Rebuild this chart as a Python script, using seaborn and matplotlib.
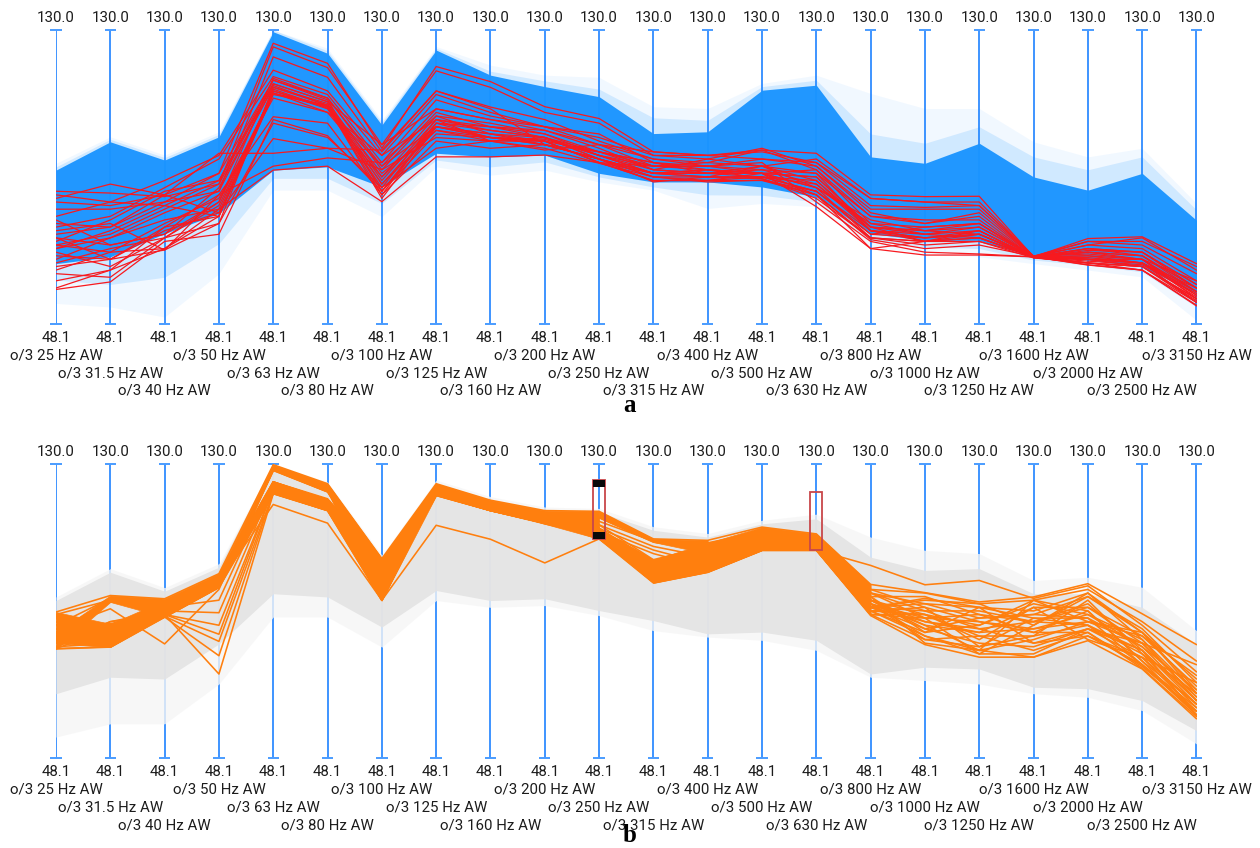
import numpy as np
import pandas as pd
import matplotlib
matplotlib.use("Agg")
import matplotlib.pyplot as plt
from matplotlib.patches import Rectangle
import seaborn as sns

freqs = ["25","31.5","40","50","63","80","100","125","160","200","250","315","400","500","630","800","1000","1250","1600","2000","2500","3150"]
axis_labels = [f"o/3 {f} Hz AW" for f in freqs]
y_min_label, y_max_label = "48.1", "130.0"
y_min, y_max = 48.1, 130.0

blue_core_top = [90.9,98.8,93.7,100.2,129.5,123.5,103.5,124.4,117.4,114.2,111.4,101.1,101.6,113.2,114.6,94.6,92.8,98.4,89.0,85.3,90.0,76.9]
blue_core_bot = [64.8,66.7,73.2,78.8,90.9,91.8,86.2,95.6,94.6,95.1,90.0,87.6,87.6,86.2,83.4,73.2,71.3,71.3,66.7,65.8,63.9,56.5]
blue_mid_top = [91.8,99.5,94.4,100.9,130.0,124.2,104.2,124.9,118.5,115.8,113.5,105.5,104.8,114.2,116.0,101.0,98.4,103.0,94.6,91.0,94.6,79.8]
blue_mid_bot = [60.2,59.0,61.0,70.4,88.6,88.6,81.6,93.7,91.8,93.2,89.0,86.2,84.0,83.9,82.0,71.3,69.5,69.0,65.8,64.4,62.5,52.7]
blue_fade_top = [92.8,100.2,95.1,101.6,130.0,124.9,104.9,125.4,120.2,117.4,116.8,108.6,108.1,115.1,117.4,112.3,108.1,108.1,98.8,94.6,97.0,81.6]
blue_fade_bot = [53.7,52.7,49.9,62.0,85.3,85.3,77.9,91.8,89.5,90.9,87.6,85.3,80.2,81.6,80.7,69.5,67.6,66.7,64.8,63.0,61.1,49.0]

gray_core_top = [91.9,99.8,94.5,101.2,130.0,124.0,103.6,124.5,119.9,117.0,116.6,111.5,109.6,113.3,114.7,104.0,100.3,100.8,93.8,93.8,90.0,79.7]
gray_core_bot = [65.9,70.5,70.0,79.8,93.8,92.9,84.5,94.7,91.9,92.4,89.1,86.3,82.6,83.1,80.8,71.4,73.3,72.8,67.7,67.3,64.0,55.6]
gray_fade_top = [92.9,100.8,95.5,102.2,130.0,125.0,104.6,125.5,120.9,118.0,117.6,112.5,110.6,114.3,116.0,109.6,105.9,105.0,97.5,98.4,95.6,83.5]
gray_fade_bot = [53.8,57.5,57.5,68.6,87.3,87.3,78.9,91.9,90.0,90.5,87.7,83.5,81.7,80.8,78.0,70.5,69.6,68.6,65.9,64.9,61.2,51.9]

red_lines = [
 [83,87,84,90,126.3,120.7,97,119.8,115.6,108.6,105.3,96,95,96.5,95.6,84,83.5,83.6,66.7,71.8,72.3,64.8],
 [85,84.5,83.5,87,125.3,119.5,98,118.6,114,107,104,95,94,92,94,83,82,81,66.7,71,70,62],
 [80,80,82,85,122.5,116.8,96,113,108.5,105,99,94,92,94,93,81,80.5,81,66.9,70,69,60],
 [78,82,88,95,118.8,113,95,112,107,103,101,93,92,91,90,78,77,77,66.5,69,68,58],
 [75,78,86,94,117,112,93,110.5,106,103,98,92,92,90,91,78,76,78,66.5,68.5,68,59],
 [73,75,82,90,116,111,92,108,105,102,97,91,94,97,92,79,76,79,66.7,68,67,58],
 [70,73,80,87,115,110,89,106,104,101,96,92,93,96.5,91,76,75,76,66.7,67,66,57],
 [72,70,73,86,114,109.5,88,105,103,101,95,90,90,90,89,75,74,75,66.7,66,65,56],
 [69,72,77,80,113,108.6,84,104,102,100,95,90,89,89,88,74,73,74,66.5,65,64,55],
 [67,66,75,78,112.3,108.6,83,103,101,100,94,89,88,89,85,73,72,74,66.5,65,64,54],
 [65,69,72,81,112.3,109,85,104,100,99,93,88,88,88,84,72,71,73,66.7,64.5,63,53.2],
 [70,68,69,78,112,108.8,87,102,99,100,94,90,90,91,87,75,71,72,66.7,66,66,55],
 [60,63,75,84,105.8,104,84,99,97,98,94,87.6,89,92,86,72,71,72,66.7,68,67,57],
 [57.6,59.7,71,73,105,100.5,85,103,100,99,93,88,88,90,84,69,71,71,67,65,63,54],
 [74,76,68.6,84,92,94.3,93,106,101,98,94,90,91,90,80.7,69,67.2,67.2,66.7,64.4,63,53],
 [58,63,69,80,90.9,92,82.1,94.6,94.6,95.1,93,92,92,93,82,71,68,67.5,66.7,66,65,57],
 [76,75,84,95.6,95.6,97,96.5,113,108,98,96,93,91,90,86,76,73,72,66.7,68,66,60],
 [82,81,84,79,99.7,97,91,100,99,96.5,98,96,95,94,92,80,80,80,66.7,70,72,63],
 [84,82,81,88,115,110,98,108,105,103,100,95,95,96,93,83,82,82,66.9,71,71,64],
 [68,64,72,76,104,100,86,97,99,99,96,91,90,90,89,75,74,76,66.8,69,67,58],
 [72,66,68.6,76,114,109,90,102,100,98,94,89,87.6,88.1,85,73,75,76,66.5,66,64,55],
 [77,70,73,82,116.5,111,91,107,103,102,98,94,93,92,90,74,72,73,66.5,67,65,54],
 [64,66,74,79,113,108,86,105,102,100,95,91,90,92,88,75,73,75,66.8,67.5,66,56],
 [62,61,72,82,112.5,107,89,103,101,99,93,90,89,89,87,74,72,73,66.6,66.5,65,55.5],
 [71,77,85,88,116,110.5,85,101,100,99.5,95,92,91,90,86,77,74,73,66.7,69,68,59],
 [66,72,79,85,114.5,109,87,104,103,100,96,93,90,89,85,74,71,74,66.6,65.5,64.5,56.5],
 [69,74,81,78,113.5,108.2,92,103,100,98,94,90,91,88.5,83,72,70,71,66.4,65,64,54.5],
 [63,68,76,83,111,107,95,105,99,97,92.8,89,89,88.5,84,71.5,69,70,66.8,66,65,58],
]

orange_lines = [
 [88.7,93.3,92.4,99.4,129.8,124.5,103.6,124.5,119.9,117,116.8,109.1,108.7,112.4,110.5,96.4,94.1,91.5,92.9,96.6,88.2,79.6],
 [84,89.6,79.8,95,128.5,123,100,123,119,116,114,108.5,108,111,110,95,94,91,92,95,86,75],
 [78.4,78.9,88,97,118.7,113.5,92,112.9,109,102.4,109.1,98,100,106,106,101.7,96.3,97.5,92.5,96,85,72],
 [88,92,90,92,125,120.3,103,124,119,116,113,103.3,107,111,109,94,91,90,89,94,83,70],
 [86,85.4,89,88.5,124,119.5,101,122,118,115,112,102,106,110,108,93,93,88,86,90,82,68],
 [82,84,88,85,123,119,99,122,118,114,112,101,105,109,108,92,88,85,91,88,81,66],
 [80,82,88,82.5,123,118,97,121.5,117.5,114,111,100,104,108,107,91,85,83,84,86,80,65],
 [79,80,87.5,80.5,122,117.5,96,121.2,117,113.5,110,99,103,108,106.5,90,84,80,79,84,78,63],
 [87,79.5,87.3,76.5,122,117,92,122,118,113.3,110,98,101,107,106,89,82,78,76.1,82,76,61],
 [85,83,88,71.4,121.7,117,91.9,122,118,114,109.1,96.8,99.8,105.9,105.9,87.7,79.6,76.1,76.1,80.7,72.8,58.9],
 [83,92,91,98,129,123.5,102,124,119,116,115,108.2,106,111,109,91,87,86,83,89,75,60],
 [81,91.5,90,97,128.2,122.2,100,123,118,115,113,107,104,110,108,90,86,84,86,91,78,64],
 [79,86,89,96,128.5,122.5,98,122,118,115,112,106,102,109,107,89,83,90,87,85,74,62],
 [80,85,88,95.6,128.4,122.3,97,121.5,117,114,111,105,101,107,106,88,81,82,78,83,73,59.5],
 [84,80,89,96,125,119,100,123,119,116,112,100,102,108,107,90,92,91,85,93,84,69],
 [86,82,90,95.8,124,118,99,122,118,115,111,101,103,108,107,92,84,87,88,87,79,67],
 [82,81,91,96.5,123,118,96,121.5,117.5,114,110,97.5,100,106.5,106,89,90,79,82,92,77,66],
 [78.5,79,87.5,97,122,117,95,121.3,117,113.5,110,97,100,106,106,88,88,81,90,81,76,63],
 [87.5,84,89,98,125,120,98,123,118,115,112,103,104,109,108,93,80,78,81,86,82,71],
 [85,92.5,91,99,125,119.5,97,122,118,114,111,99,101,107,106,91,82,77,77,84,80,74],
 [83,91.8,90.5,98,124,118.5,94,122,117,114,110,98,100,106,106,90,89,84,80,82,74,60],
 [80,86,88,97,123,118,93,121.5,117,113.5,110,97,100,106,106,94,87,88,83,83,73.5,61],
 [81,80,88,96,124,119,98,122,118,115,112,102,103,108,107,95,90,86,84,88,79,64],
 [82,83,89,97,125,120,100,123,118,115,111,100,102,108,107,94,89,89,86,85,77,62],
 [83,84,90,98,122,118,97,122,117,114,110,99,101,107,106,92,86,83,90,90,80,65],
 [84,85,91,97,123,117.5,96,121.5,117,114,110,98,100,107,106,90,91,87,88,93,83,67],
 [85,81,88,96,124,118,95,122,118,115,111,99,101,108,107,93,83,85,92,89,75,63],
 [86,79.5,87.5,96,121.8,117.2,94,121.5,117,113.5,110,97,100,106,106,91,81,79,87,87,74,61],
 [87,79,87.5,95.8,122,117.3,93,122,117.5,114,110,97.5,100,106,106,90,92.5,90,80,84,76,69],
 [88,78.9,87.4,95.7,123,118,92,122,118,115,111,98,101,107,106,89,88,82,82,85,78,60],
 [79,85,88,97,124,119,94,123,118,115,112,99,102,108,107,92,85,78,92,86,83,66],
 [78.5,84,87.5,98,125,119,96,122,118,114,111,98,101,107,106,88,87,77,85,94,81,64],
]

n = np.nan
ribbon_a_hi = [83.0,93.3,92.4,99.4,129.8,124.5,103.6,124.5,119.9,117,116.8,n,n,n,n,n,n,n,n,n,n,n]
ribbon_a_lo = [78.4,91.5,87.3,95.6,128.2,122.2,92.0,121.2,117,113.3,109.1,n,n,n,n,n,n,n,n,n,n,n]
ribbon_b_hi = [88.7,85.4,92.0,97.0,125.0,120.3,103.6,n,n,n,n,n,n,n,n,n,n,n,n,n,n,n]
ribbon_b_lo = [80.0,78.9,87.3,95.6,121.7,117.0,91.9,n,n,n,n,n,n,n,n,n,n,n,n,n,n,n]
ribbon_c_hi = [n,n,n,n,n,n,n,n,n,n,116.8,109.1,108.7,n,n,n,n,n,n,n,n,n]
ribbon_c_lo = [n,n,n,n,n,n,n,n,n,n,115.0,108.2,105.0,n,n,n,n,n,n,n,n,n]
ribbon_d_hi = [n,n,n,n,n,n,n,n,n,n,112.0,103.3,108.0,112.4,110.5,96.4,n,n,n,n,n,n]
ribbon_d_lo = [n,n,n,n,n,n,n,n,n,n,109.1,96.8,99.8,105.9,105.9,87.7,n,n,n,n,n,n]

brush_axes = [10, 14]
brush_hi = [125.6, 122.2]
brush_lo = [109.1, 105.9]

AXIS_BLUE = "#2f8bff"
CAP_BLUE = "#4a9cff"
BLUE = "#1a94ff"
RED = "#f7191f"
ORANGE = "#ff7f0e"
GRAY = "#e3e3e3"


def long_frame(rows):
    return pd.DataFrame(
        [(i, a, v) for i, r in enumerate(rows) for a, v in enumerate(r)],
        columns=["line", "axis", "value"],
    )


sns.set_theme(style="white")
plt.rcParams["font.family"] = ["Roboto", "DejaVu Sans"]

W, H = 1260, 848
fig = plt.figure(figsize=(W / 100, H / 100), dpi=100, facecolor="white")
L, R = 56.0, 1196.5


def make_axes(top, bottom):
    ax = fig.add_axes([L / W, 1 - bottom / H, (R - L) / W, (bottom - top) / H])
    ax.set_xlim(0, len(freqs) - 1)
    ax.set_ylim(y_min, y_max)
    ax.axis("off")
    return ax


def decorate(ax, top):
    x = np.arange(len(freqs))
    trans = ax.get_xaxis_transform()
    ax.vlines(x, y_min, y_max, color=AXIS_BLUE, lw=1.3, zorder=1)
    cap = 0.105
    ax.hlines([y_min] * len(x), x - cap, x + cap, color=CAP_BLUE, lw=1.4, zorder=1, clip_on=False)
    ax.hlines([y_max] * len(x), x - cap, x + cap, color=CAP_BLUE, lw=1.4, zorder=1, clip_on=False)
    kw = dict(fontsize=10.8, color="#1c1c1c", ha="center", va="center", clip_on=False)
    to_px = lambda py: (ax.transAxes.inverted().transform((0, H - py))[1])
    for i, lab in enumerate(axis_labels):
        ax.text(i, to_px(top - 12), y_max_label, transform=trans, **kw)
        ax.text(i, to_px(top + 308), y_min_label, transform=trans, **kw)
        ax.text(i, to_px(top + 325 + 18 * (i % 3)), lab, transform=trans, **kw)


ax_a = make_axes(30, 323.5)
ax_b = make_axes(464, 757.5)
decorate(ax_a, 30)
decorate(ax_b, 464)

idx = np.arange(len(freqs))

# Panel a
ax_a.fill_between(idx, blue_fade_bot, blue_fade_top, color=BLUE, alpha=0.06, lw=0, zorder=2)
ax_a.fill_between(idx, blue_mid_bot, blue_mid_top, color=BLUE, alpha=0.15, lw=0, zorder=2)
ax_a.fill_between(idx, blue_core_bot, blue_core_top, color=BLUE, alpha=0.96, lw=0, zorder=3)
sns.lineplot(data=long_frame(red_lines), x="axis", y="value", units="line", estimator=None,
             color=RED, lw=0.9, sort=False, legend=False, ax=ax_a, zorder=5)

# Panel b
ax_b.fill_between(idx, gray_fade_bot, gray_fade_top, color="#f6f6f6", alpha=0.8, lw=0, zorder=2)
ax_b.fill_between(idx, gray_core_bot, gray_core_top, color=GRAY, alpha=0.9, lw=0, zorder=3)
for hi, lo in [(ribbon_a_hi, ribbon_a_lo), (ribbon_b_hi, ribbon_b_lo),
               (ribbon_c_hi, ribbon_c_lo), (ribbon_d_hi, ribbon_d_lo)]:
    ax_b.fill_between(idx, lo, hi, color=ORANGE, lw=0.5, zorder=5)
sns.lineplot(data=long_frame(orange_lines), x="axis", y="value", units="line", estimator=None,
             color=ORANGE, lw=1.15, sort=False, legend=False, ax=ax_b, zorder=5)

# Brushes
bw = 0.11
for a, hi, lo in zip(brush_axes, brush_hi, brush_lo):
    ax_b.add_patch(Rectangle((a - bw, lo), 2 * bw, hi - lo, fill=False, ec="#c8474a", lw=1.3, zorder=7))
handle = 1.9
ax_b.add_patch(Rectangle((brush_axes[0] - bw, brush_hi[0] - handle), 2 * bw, handle, fc="#0a0a0a", ec="none", zorder=8))
ax_b.add_patch(Rectangle((brush_axes[0] - bw, brush_lo[0]), 2 * bw, handle, fc="#0a0a0a", ec="none", zorder=8))

for s, y in [("a", 412), ("b", 842.5)]:
    fig.text(630 / W, 1 - y / H, s, family="Liberation Serif", weight="bold", fontsize=18,
             ha="center", va="baseline", color="black")

fig.savefig("out.png", dpi=100)
